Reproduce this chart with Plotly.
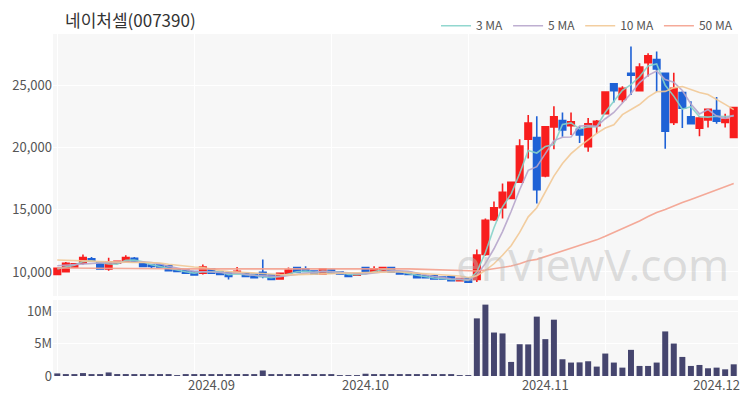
import plotly.graph_objects as go
import pandas as pd

# ---- data ----
OPEN = [9800, 10030, 10400, 10700, 11050, 10780, 10250, 10700, 10850, 11100,
        10700, 10550, 10550, 10500, 10200, 10150, 10030, 9900, 10250, 10000,
        9950, 9950, 9900, 9820, 9970, 9750, 9450, 9900, 10350, 10250,
        10080, 9850, 10150, 10000, 9800, 9750, 10350, 10050, 10100, 10350,
        10000, 9950, 9800, 9700, 9700, 9600, 9620, 9300, 9480, 9400,
        11400, 14200, 15150, 15900, 17200, 20650, 20800, 17700, 21650, 22150,
        21750, 21450, 20050, 21750, 22700, 25100, 23850, 25950, 24550, 26800,
        27050, 25950, 22000, 24400, 22450, 21550, 22200, 22950, 22000, 20800]
HIGH = [10350, 10800, 10700, 11400, 11200, 10850, 11150, 10900, 11350, 11200,
        10750, 10600, 10600, 10550, 10250, 10200, 10050, 10600, 10300, 10050,
        10000, 10400, 9950, 9850, 11000, 9780, 9920, 10350, 10400, 10450,
        10100, 10300, 10200, 10050, 9830, 9920, 10400, 10450, 10400, 10400,
        10050, 9980, 9830, 9720, 9720, 9620, 9650, 9500, 9500, 11800,
        14300, 15650, 17100, 17250, 20650, 22600, 22500, 21700, 23300, 22800,
        22800, 21700, 22350, 22200, 24500, 25150, 24900, 28100, 26750, 27550,
        27700, 26000, 26000, 24500, 23700, 22500, 23100, 24050, 22700, 23200]
LOW = [9780, 10000, 10350, 10600, 10850, 10200, 10100, 10650, 10800, 10800,
       10400, 10300, 10350, 10050, 10000, 9880, 9750, 9800, 9880, 9750,
       9400, 9900, 9620, 9520, 9500, 9350, 9420, 9880, 9950, 10000,
       9820, 9820, 9880, 9800, 9620, 9720, 9950, 10000, 10080, 9970,
       9800, 9750, 9530, 9520, 9430, 9430, 9270, 9270, 9150, 9200,
       11300, 14100, 14300, 15900, 17150, 19100, 15500, 17600, 19850, 20850,
       21000, 20350, 19650, 21100, 22650, 23600, 23600, 24200, 24500, 25700,
       24450, 19900, 21800, 21550, 21850, 20900, 21600, 21900, 21600, 20750]
CLOSE = [10300, 10700, 10650, 11150, 10900, 10250, 10800, 10850, 11150, 10850,
         10450, 10450, 10400, 10100, 10050, 9900, 9770, 10400, 9900, 9800,
         9650, 10050, 9650, 9550, 9650, 9400, 9900, 10150, 10000, 10050,
         9850, 10250, 9900, 9850, 9650, 9850, 10000, 10250, 10350, 10000,
         9850, 9800, 9550, 9540, 9450, 9440, 9300, 9480, 9180, 11350,
         14150, 15150, 16400, 17200, 20100, 21950, 16600, 21650, 22450, 21400,
         22050, 21000, 21900, 22100, 24450, 24550, 24750, 25800, 26450, 27350,
         26300, 21300, 24750, 23150, 21900, 22350, 23050, 22100, 22250, 23200]
VOLUME = [0.40e6, 0.20e6, 0.20e6, 0.45e6, 0.20e6, 0.25e6, 0.55e6, 0.30e6, 0.30e6, 0.25e6,
          0.20e6, 0.15e6, 0.15e6, 0.20e6, 0.12e6, 0.15e6, 0.15e6, 0.30e6, 0.20e6, 0.20e6,
          0.30e6, 0.30e6, 0.15e6, 0.15e6, 0.85e6, 0.25e6, 0.20e6, 0.20e6, 0.20e6, 0.15e6,
          0.15e6, 0.20e6, 0.15e6, 0.12e6, 0.12e6, 0.12e6, 0.35e6, 0.25e6, 0.25e6, 0.30e6,
          0.20e6, 0.15e6, 0.15e6, 0.15e6, 0.15e6, 0.15e6, 0.15e6, 0.12e6, 0.12e6, 8.88e6,
          11.0e6, 6.70e6, 6.56e6, 2.17e6, 4.90e6, 4.87e6, 9.15e6, 5.68e6, 8.68e6, 2.58e6,
          2.07e6, 2.10e6, 2.27e6, 1.45e6, 3.46e6, 2.07e6, 1.29e6, 4.03e6, 1.55e6, 1.55e6,
          2.07e6, 6.87e6, 5.00e6, 2.94e6, 1.55e6, 1.70e6, 1.19e6, 1.29e6, 1.03e6, 1.80e6]

# moving-average values before the window fills (window reaches before the first candle)
MA3_HEAD = [10250, 10400]
MA5_HEAD = [10500, 10550, 10600, 10650]
MA10_HEAD = [10960, 10950, 10930, 10900, 10870, 10840, 10810, 10790, 10770]
MA50_HEAD = [10320, 10320, 10320, 10320, 10310, 10310, 10300, 10300, 10300, 10300,
             10290, 10280, 10270, 10260, 10250, 10250, 10240, 10240, 10240, 10240,
             10240, 10250, 10250, 10260, 10270, 10280, 10290, 10300, 10300, 10300,
             10300, 10300, 10300, 10300, 10300, 10300, 10290, 10290, 10280, 10280,
             10270, 10250, 10230, 10210, 10180, 10150, 10120, 10090, 10060]

TICK_IDX = [18, 36, 57, 77]
TICK_LABELS = ["2024.09", "2024.10", "2024.11", "2024.12"]
GRID_IDX = [0, 16, 32, 48, 64]
PRICE_TICKS = [10000, 15000, 20000, 25000]
VOL_TICKS = [0, 5e6, 10e6]
VOL_LABELS = ["0", "5M", "10M"]

TITLE = "네이처셀(007390)"
WATERMARK = "enViewV.com"

RED = "#f81e1e"
BLUE = "#1f62d6"
VOL_COLOR = "#45456e"
MA_SPECS = [("3 MA", 3, MA3_HEAD, "#86d3ca"),
            ("5 MA", 5, MA5_HEAD, "#b7a6cc"),
            ("10 MA", 10, MA10_HEAD, "#f2c996"),
            ("50 MA", 50, MA50_HEAD, "#f4a18e")]

FONT = "Noto Sans CJK KR, Noto Sans, sans-serif"

x = list(range(len(CLOSE)))


def moving_average(closes, n, head):
    rolled = pd.Series(closes, dtype=float).rolling(n).mean().tolist()
    return list(head) + rolled[len(head):]


fig = go.Figure()

fig.add_trace(go.Candlestick(
    x=x, open=OPEN, high=HIGH, low=LOW, close=CLOSE,
    increasing=dict(line=dict(color=RED, width=1.6), fillcolor=RED),
    decreasing=dict(line=dict(color=BLUE, width=1.6), fillcolor=BLUE),
    showlegend=False, xaxis="x", yaxis="y", hoverinfo="skip"))

for name, n, head, color in MA_SPECS:
    fig.add_trace(go.Scatter(
        x=x, y=moving_average(CLOSE, n, head), mode="lines", name=name,
        line=dict(color=color, width=1.6), opacity=0.9,
        xaxis="x", yaxis="y", hoverinfo="skip"))

fig.add_trace(go.Bar(
    x=x, y=VOLUME, marker=dict(color=VOL_COLOR, line=dict(width=0)),
    showlegend=False, xaxis="x2", yaxis="y2", hoverinfo="skip"))

grid_minor = dict(tickmode="array", tickvals=GRID_IDX, showgrid=True,
                  gridcolor="white", gridwidth=1, ticks="")

fig.update_layout(
    width=750, height=400,
    margin=dict(l=53, r=12, t=34, b=24, autoexpand=False),
    paper_bgcolor="white", plot_bgcolor="#f7f7f7",
    font=dict(family=FONT, size=13, color="#555555"),
    bargap=0.3, boxgap=0.2, boxgroupgap=0.05,
    hovermode=False,
    xaxis=dict(domain=[0, 1], anchor="y", range=[-0.5, 79.5],
               tickmode="array", tickvals=TICK_IDX, showticklabels=False,
               showgrid=False, zeroline=False, minor=grid_minor,
               rangeslider=dict(visible=False), automargin=False),
    xaxis2=dict(domain=[0, 1], anchor="y2", matches="x", range=[-0.5, 79.5],
                tickmode="array", tickvals=TICK_IDX, ticktext=TICK_LABELS,
                showgrid=False, zeroline=False, minor=grid_minor, ticks="",
                automargin=False),
    yaxis=dict(domain=[0.234, 1], range=[8074, 29102], tickmode="array",
               tickvals=PRICE_TICKS, tickformat=",", gridcolor="white",
               zeroline=False, ticks="", automargin=False),
    yaxis2=dict(domain=[0, 0.222], range=[0, 11.7e6], tickmode="array",
                tickvals=VOL_TICKS, ticktext=VOL_LABELS, gridcolor="white",
                zeroline=False, ticks="", automargin=False),
    legend=dict(orientation="h", x=1, xanchor="right", y=1.024, yanchor="middle",
                font=dict(size=12, color="#555555"), bgcolor="rgba(0,0,0,0)",
                itemwidth=30, traceorder="normal"),
    showlegend=True,
    annotations=[
        dict(text=TITLE, xref="paper", yref="paper", x=0.0146, y=1.041,
             xanchor="left", yanchor="middle", showarrow=False,
             font=dict(size=17, color="#333333", family=FONT)),
        dict(text=WATERMARK, xref="paper", yref="paper", x=0.99, y=0.235,
             xanchor="right", yanchor="bottom", showarrow=False,
             font=dict(size=44, color="rgba(185,185,185,0.45)", family="Noto Sans, sans-serif")),
    ],
)

fig.write_html("out.html",
               config={"displayModeBar": False},
               post_script="document.body.style.margin='0';document.body.style.overflow='hidden';")
